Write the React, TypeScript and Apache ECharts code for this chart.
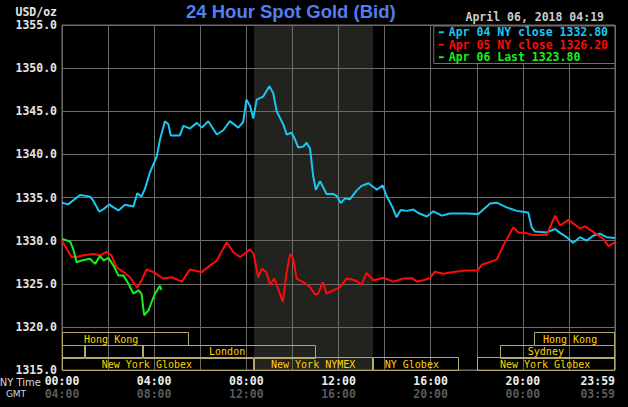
import React, { useEffect, useRef } from "react";
import * as echarts from "echarts";

// ---- data (minutes after 00:00 NY time, USD/oz) ----
const blueMinutes = [0, 16, 47, 73, 82, 97, 108, 123, 134, 147, 164, 186, 196, 207, 216, 229, 247, 255, 268, 277, 283, 307, 316, 333, 351, 364, 381, 403, 420, 437, 459, 472, 480, 490, 498, 507, 524, 540, 550, 559, 568, 576, 585, 598, 607, 615, 628, 637, 646, 654, 661, 672, 689, 707, 715, 726, 737, 750, 767, 780, 798, 820, 835, 845, 861, 871, 882, 898, 915, 928, 950, 967, 989, 1010, 1054, 1084, 1115, 1132, 1158, 1184, 1214, 1223, 1232, 1262, 1284, 1297, 1314, 1331, 1349, 1366, 1384, 1401, 1418, 1440];
const bluePrices = [1334.4, 1334.2, 1335.3, 1335.1, 1334.6, 1333.35, 1333.65, 1334.2, 1333.85, 1333.5, 1334.15, 1333.95, 1335.5, 1335.1, 1336.0, 1337.9, 1339.8, 1341.7, 1343.85, 1343.5, 1342.2, 1342.2, 1343.3, 1343.0, 1343.65, 1343.1, 1343.85, 1342.3, 1342.8, 1343.85, 1343.1, 1343.75, 1346.35, 1345.6, 1344.15, 1346.35, 1346.7, 1347.9, 1347.1, 1345.0, 1344.2, 1343.5, 1342.3, 1342.5, 1341.7, 1340.8, 1340.9, 1341.35, 1340.65, 1337.5, 1335.9, 1336.9, 1335.4, 1335.4, 1335.2, 1334.35, 1334.9, 1334.8, 1335.8, 1336.35, 1336.65, 1335.9, 1336.4, 1335.2, 1333.85, 1332.7, 1333.55, 1333.45, 1333.6, 1333.2, 1332.8, 1333.4, 1332.9, 1333.15, 1333.15, 1333.1, 1334.3, 1334.4, 1333.85, 1333.45, 1333.25, 1331.55, 1331.05, 1330.95, 1331.35, 1330.9, 1330.4, 1329.75, 1330.4, 1330.0, 1330.6, 1330.8, 1330.4, 1330.3];

const redMinutes = [0, 12, 25, 38, 55, 82, 99, 115, 129, 142, 160, 177, 196, 207, 220, 238, 264, 286, 312, 333, 364, 385, 403, 429, 446, 464, 490, 499, 511, 520, 532, 542, 553, 563, 575, 585, 594, 602, 611, 628, 646, 659, 667, 679, 689, 707, 724, 741, 763, 780, 793, 811, 837, 863, 889, 911, 924, 941, 958, 971, 993, 1019, 1054, 1082, 1093, 1132, 1149, 1175, 1188, 1206, 1227, 1262, 1284, 1297, 1319, 1349, 1362, 1392, 1410, 1423, 1440];
const redPrices = [1330.0, 1329.05, 1328.1, 1328.1, 1328.3, 1328.45, 1328.3, 1328.7, 1328.3, 1326.9, 1326.35, 1325.75, 1324.5, 1325.4, 1326.65, 1326.35, 1325.6, 1325.75, 1325.25, 1326.65, 1326.35, 1327.1, 1327.7, 1329.8, 1328.65, 1328.1, 1329.0, 1328.45, 1325.75, 1326.75, 1326.35, 1324.9, 1325.6, 1324.4, 1322.9, 1326.35, 1328.45, 1327.9, 1325.6, 1325.2, 1324.6, 1323.75, 1323.85, 1325.2, 1323.85, 1324.25, 1324.6, 1325.6, 1325.4, 1324.9, 1326.25, 1325.4, 1325.7, 1325.25, 1325.6, 1325.65, 1325.25, 1325.4, 1325.65, 1326.4, 1326.15, 1326.35, 1326.55, 1326.55, 1327.2, 1327.8, 1329.4, 1331.55, 1330.95, 1330.9, 1330.65, 1330.65, 1332.9, 1331.75, 1332.4, 1331.4, 1331.65, 1330.75, 1330.2, 1329.35, 1329.8];

const greenMinutes = [0, 21, 29, 38, 51, 73, 86, 99, 109, 121, 134, 147, 160, 173, 186, 199, 207, 214, 225, 242, 255, 259];
const greenPrices = [1330.2, 1329.9, 1329.05, 1327.5, 1327.7, 1327.9, 1327.3, 1328.2, 1327.7, 1328.0, 1327.1, 1325.95, 1325.95, 1325.0, 1323.85, 1324.25, 1323.85, 1321.35, 1321.9, 1323.85, 1324.75, 1324.3];

const seriesNames = ["Apr 04 NY close 1332.80", "Apr 05 NY close 1326.20", "Apr 06 Last 1323.80"];

// market sessions (row 0 = top)
const sessionNames = ["Hong Kong", "Hong Kong", "", "", "London", "Sydney", "New York Globex", "New York NYMEX", "NY Globex", "New York Globex"];
const sessionRows = [0, 0, 1, 1, 1, 1, 2, 2, 2, 2];
const sessionStarts = [0, 1230, 0, 60, 210, 1140, 0, 500, 810, 1080];
const sessionEnds = [330, 1440, 60, 210, 660, 1440, 500, 810, 1035, 1440];
const sessionLabelAt = [128, 1323, 30, 135, 430, 1260, 221, 654, 911, 1258];

const nymexWindow = [500, 810];

const Y_MIN = 1315;
const Y_MAX = 1355;
const Y_STEP = 5;
const X_MIN = 0;
const X_MAX = 1440;
const X_STEP = 120;

const titleText = "24 Hour Spot Gold (Bid)";
const dateText = "April 06, 2018 04:19";
const unitText = "USD/oz";

const MONO = "'DejaVu Sans Mono', monospace";

function hhmm(m: number) {
  const h = Math.floor(m / 60) % 24;
  const mm = m % 60;
  return String(h).padStart(2, "0") + ":" + String(mm).padStart(2, "0");
}

export default function App() {
  const ref = useRef<HTMLDivElement>(null);

  useEffect(() => {
    const chart = echarts.init(ref.current!, null, { renderer: "svg" });
    const pair = (ms: number[], ps: number[]) => ms.map((m, i) => [m, ps[i]]);
    const colors = ["#1ac6f2", "#ff0a0a", "#19f019"];

    const option: any = {
      animation: false,
      backgroundColor: "#000000",
      grid: {
        left: 62,
        right: 13,
        top: 25,
        bottom: 37,
        show: true,
        borderColor: "#707070",
        borderWidth: 1,
        backgroundColor: "transparent",
      },
      xAxis: {
        type: "value",
        min: X_MIN,
        max: X_MAX,
        interval: X_STEP,
        axisLine: { show: false },
        axisTick: { show: false },
        splitLine: { show: true, lineStyle: { color: "#6a6a6a", width: 1 } },
        axisLabel: {
          margin: 5,
          showMaxLabel: true,
          alignMaxLabel: "right",
          formatter: (v: number) => {
            if (v === X_MAX) return "{a|23:59}\n{b|03:59}";
            if (v % 240 !== 0) return "";
            return "{a|" + hhmm(v) + "}\n{b|" + hhmm(v + 240) + "}";
          },
          rich: {
            a: { color: "#ececec", fontFamily: MONO, fontWeight: "bold", fontSize: 11.5, lineHeight: 12.5 },
            b: { color: "#5a5a5a", fontFamily: MONO, fontWeight: "bold", fontSize: 11.5, lineHeight: 12.5 },
          },
        },
      },
      yAxis: {
        type: "value",
        min: Y_MIN,
        max: Y_MAX,
        interval: Y_STEP,
        axisLine: { show: false },
        axisTick: { show: false },
        splitLine: { show: true, lineStyle: { color: "#6a6a6a", width: 1 } },
        axisLabel: {
          margin: 5,
          color: "#e4e4e4",
          fontFamily: MONO,
          fontWeight: "bold",
          fontSize: 11.5,
          formatter: (v: number) => v.toFixed(1),
        },
      },
      legend: {
        orient: "vertical",
        right: 13,
        top: 26,
        backgroundColor: "#000000",
        borderColor: "#707070",
        borderWidth: 1,
        padding: [0, 7, 0, 5],
        itemGap: 0,
        itemWidth: 5,
        itemHeight: 2,
        icon: "rect",
        selectedMode: false,
        textStyle: { fontFamily: MONO, fontWeight: "bold", fontSize: 11.5, lineHeight: 12.5 },
        data: seriesNames.map((n, i) => ({ name: n, textStyle: { color: colors[i] } })),
      },
      graphic: [
        {
          type: "text",
          left: 186,
          top: 2,
          style: { text: titleText, fill: "#4f7ff2", font: "bold 18.5px 'Liberation Sans', Arial, sans-serif" },
        },
        {
          type: "text",
          x: 604,
          y: 17,
          style: { text: dateText, fill: "#cccccc", align: "right", verticalAlign: "middle", font: "bold 11.5px " + MONO },
        },
        {
          type: "text",
          x: 57,
          y: 12,
          style: { text: unitText, fill: "#e4e4e4", align: "right", verticalAlign: "middle", font: "bold 11.5px " + MONO },
        },
        {
          type: "text",
          x: 41,
          y: 382,
          style: { text: "NY Time", fill: "#d8d8d8", align: "right", verticalAlign: "middle", font: "10px 'DejaVu Sans', sans-serif" },
        },
        {
          type: "text",
          x: 16,
          y: 394,
          style: { text: "GMT", fill: "#d8d8d8", align: "center", verticalAlign: "middle", font: "9px 'DejaVu Sans', sans-serif" },
        },
      ],
      series: [
        {
          name: "nymex",
          type: "line",
          data: [[nymexWindow[0], Y_MIN]],
          symbol: "none",
          lineStyle: { opacity: 0 },
          silent: true,
          z: 1,
          markArea: {
            silent: true,
            itemStyle: { color: "rgba(112,112,102,0.3)" },
            data: [[{ xAxis: nymexWindow[0] }, { xAxis: nymexWindow[1] }]],
          },
        },
        {
          name: "sessions",
          type: "custom",
          silent: true,
          clip: false,
          z: 2,
          encode: { x: [0, 1, 2], y: 3 },
          data: sessionStarts.map((s, i) => [s, sessionEnds[i], sessionLabelAt[i], Y_MIN + 1, sessionRows[i]]),
          renderItem: (params: any, api: any) => {
            const i = params.dataIndex;
            const s = api.coord([api.value(0), Y_MIN]);
            const e = api.coord([api.value(1), Y_MIN]);
            const lab = api.coord([api.value(2), Y_MIN]);
            const row = api.value(4);
            const h = 12.6;
            const top = s[1] - (3 - row) * h;
            return {
              type: "group",
              children: [
                {
                  type: "rect",
                  shape: { x: Math.round(s[0]) + 0.5, y: Math.round(top) + 0.5, width: Math.round(e[0] - s[0]) - 1, height: Math.round(h) },
                  style: { fill: "none", stroke: "#b3a96b", lineWidth: 1 },
                },
                {
                  type: "text",
                  style: {
                    text: sessionNames[i],
                    x: lab[0],
                    y: top + h / 2 + 0.5,
                    align: "center",
                    verticalAlign: "middle",
                    fill: "#ffd400",
                    font: "10px " + MONO,
                  },
                },
              ],
            };
          },
        },
        {
          name: seriesNames[0],
          type: "line",
          data: pair(blueMinutes, bluePrices),
          showSymbol: false,
          symbol: "none",
          color: colors[0],
          lineStyle: { width: 2, color: colors[0] },
          z: 3,
        },
        {
          name: seriesNames[1],
          type: "line",
          data: pair(redMinutes, redPrices),
          showSymbol: false,
          symbol: "none",
          color: colors[1],
          lineStyle: { width: 2, color: colors[1] },
          z: 4,
        },
        {
          name: seriesNames[2],
          type: "line",
          data: pair(greenMinutes, greenPrices),
          showSymbol: false,
          symbol: "none",
          color: colors[2],
          lineStyle: { width: 2, color: colors[2] },
          z: 5,
        },
      ],
    };

    chart.setOption(option);
    return () => chart.dispose();
  }, []);

  return (
    <div
      ref={ref}
      style={{ position: "fixed", left: 0, top: 0, width: 628, height: 407, background: "#000" }}
    />
  );
}
